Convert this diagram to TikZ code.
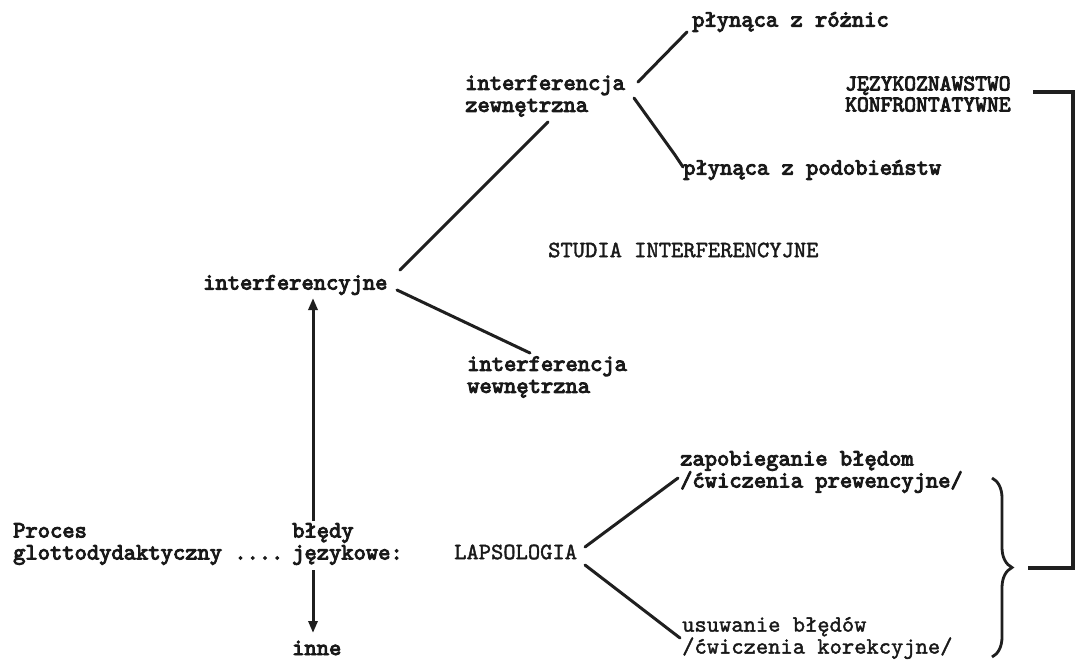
\documentclass[tikz,border=0pt]{standalone}
\usepackage{fontspec}
\usetikzlibrary{arrows.meta,decorations.pathreplacing}
\newfontfamily\twb{lmmono10-regular}[Extension=.otf,AutoFakeBold=4]
\newfontfamily\twr{lmmono10-regular}[Extension=.otf,AutoFakeBold=1.6]
\tikzset{
  tx/.style={inner sep=0pt, anchor=west, align=left, text=black!90,
    font=\twb\bfseries\fontsize{23.4}{22}\selectfont},
  txr/.style={tx, font=\twr\bfseries\fontsize{23.4}{22}\selectfont},
  ln/.style={line width=3pt, black!88, line cap=round},
  arr/.style={line width=3pt, black!88, -{Triangle[length=12pt,width=9pt]}},
}
\begin{document}
\begin{tikzpicture}[x=1pt,y=-1pt]
\useasboundingbox[fill=white] (0,0) rectangle (1075,659);
% nodes
\node[tx] (rz)    at (692,22)  {płynąca z różnic};
\node[tx] (zewn)  at (465,96)  {interferencja\\zewnętrzna};
\node[tx, align=center, font=\twb\bfseries\fontsize{22.5}{21}\selectfont] (jez) at (845,94) {JĘZYKOZNAWSTWO\\KONFRONTATYWNE};
\node[tx] (pod)   at (683,170) {płynąca z podobieństw};
\node[txr] (stud) at (548,250) {STUDIA INTERFERENCYJNE};
\node[tx] (int)   at (203,285) {interferencyjne};
\node[tx] (wewn)  at (467,377) {interferencja\\wewnętrzna};
\node[tx] (zap)   at (680,472) {zapobieganie błędom\\/ćwiczenia prewencyjne/};
\node[tx] (proc)  at (13,544)  {Proces\\glottodydaktyczny ....};
\node[tx] (bledy) at (292,544) {błędy\\językowe:};
\node[txr] (laps) at (454,552) {LAPSOLOGIA};
\node[txr, font=\twr\bfseries\fontsize{23.4}{20}\selectfont] (usuw) at (682,638) {usuwanie błędów\\/ćwiczenia korekcyjne/};
\node[tx] (inne)  at (292,648) {inne};
% connectors
\draw[ln] ([shift={(197,-15)}]int.west) -- ([shift={(83,26)}]zewn.west);
\draw[ln] ([shift={(173,-14)}]zewn.west) -- ([shift={(-5,10)}]rz.west);
\draw[ln] ([shift={(169,2)}]zewn.west) -- ([shift={(-8,-15)}]pod.west) -- ([shift={(0,-3)}]pod.west);
\draw[ln] ([shift={(194,5)}]int.west) -- ([shift={(63,-24)}]wewn.west);
\draw[arr] ([shift={(21,-23)}]bledy.west) -- ([shift={(110,13)}]int.west);
\draw[arr] ([shift={(21,26)}]bledy.west) -- ([shift={(21,-15)}]inne.west);
\draw[ln] ([shift={(131,-5)}]laps.west) -- ([shift={(-2,6)}]zap.west);
\draw[ln] ([shift={(131,13)}]laps.west) -- ([shift={(-2,0)}]usuw.west);
% brace and bracket
\coordinate (bt) at (992,478);
\coordinate (bb) at (992,657);
\coordinate (bend) at (1028,568);
\draw[line width=2.8pt, black!88, decorate, decoration={brace, amplitude=20pt, aspect=0.5}] (bt) -- (bb);
\draw[line width=3.2pt, black!88] (1033,92) -- (1073,92) |- (bend);
\end{tikzpicture}
\end{document}
